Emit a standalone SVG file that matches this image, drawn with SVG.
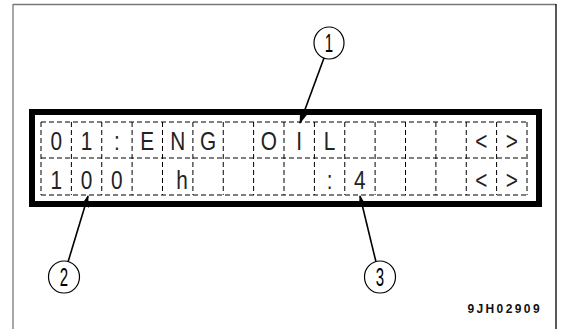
<svg xmlns="http://www.w3.org/2000/svg" width="563" height="329" viewBox="0 0 563 329">
<style>
.grid{stroke:#000;stroke-width:1;stroke-dasharray:5 3;fill:none}
.ch{font-family:"Liberation Sans",Arial,sans-serif;font-size:26px;fill:#222;text-anchor:middle}
.num{font-family:"Liberation Sans",Arial,sans-serif;font-size:25px;fill:#000;text-anchor:middle}
.lead{stroke:#000;stroke-width:1.6;fill:none}
.circ{stroke:#000;stroke-width:1.2;fill:#fff}
</style>
<defs>
<marker id="ah" markerWidth="12" markerHeight="8" refX="11" refY="4" orient="auto" markerUnits="userSpaceOnUse">
<path d="M0,0 L12,4 L0,8 Z" fill="#000"/>
</marker>
</defs>
<rect width="563" height="329" fill="#fff"/>
<g id="frame">
<line x1="13" y1="4.5" x2="556" y2="4.5" stroke="#777" stroke-width="1.3"/>
<line x1="13" y1="4" x2="13" y2="329" stroke="#777" stroke-width="1.3"/>
<line x1="556" y1="4" x2="556" y2="329" stroke="#000" stroke-width="1.3"/>
</g>
<g id="display">
<rect x="32" y="112" width="507" height="92" fill="none" stroke="#000" stroke-width="6"/>
<g class="grid">
<line x1="41" y1="122" x2="527" y2="122"/>
<line x1="41" y1="158" x2="527" y2="158"/>
<line x1="41" y1="195" x2="527" y2="195"/>
<line x1="41" y1="122" x2="41" y2="195"/>
<line x1="71.4" y1="122" x2="71.4" y2="195"/>
<line x1="101.75" y1="122" x2="101.75" y2="195"/>
<line x1="132.1" y1="122" x2="132.1" y2="195"/>
<line x1="162.5" y1="122" x2="162.5" y2="195"/>
<line x1="192.9" y1="122" x2="192.9" y2="195"/>
<line x1="223.25" y1="122" x2="223.25" y2="195"/>
<line x1="253.6" y1="122" x2="253.6" y2="195"/>
<line x1="284" y1="122" x2="284" y2="195"/>
<line x1="314.4" y1="122" x2="314.4" y2="195"/>
<line x1="344.75" y1="122" x2="344.75" y2="195"/>
<line x1="375.1" y1="122" x2="375.1" y2="195"/>
<line x1="405.5" y1="122" x2="405.5" y2="195"/>
<line x1="435.9" y1="122" x2="435.9" y2="195"/>
<line x1="466.25" y1="122" x2="466.25" y2="195"/>
<line x1="496.6" y1="122" x2="496.6" y2="195"/>
<line x1="527" y1="122" x2="527" y2="195"/>
</g>
<g id="row1">
<text class="ch" transform="translate(56.2,150) scale(0.8,1)">0</text>
<text class="ch" transform="translate(86.6,150) scale(0.8,1)">1</text>
<text class="ch" transform="translate(116.9,150) scale(0.8,1)">:</text>
<text class="ch" transform="translate(147.3,150) scale(0.8,1)">E</text>
<text class="ch" transform="translate(177.7,150) scale(0.8,1)">N</text>
<text class="ch" transform="translate(208.1,150) scale(0.8,1)">G</text>
<text class="ch" transform="translate(268.8,150) scale(0.8,1)">O</text>
<text class="ch" transform="translate(299.2,150) scale(0.8,1)">I</text>
<text class="ch" transform="translate(329.6,150) scale(0.8,1)">L</text>
<text class="ch" transform="translate(481.4,150) scale(0.8,1)">&lt;</text>
<text class="ch" transform="translate(511.8,150) scale(0.8,1)">&gt;</text>
</g>
<g id="row2">
<text class="ch" transform="translate(56.2,189) scale(0.8,1)">1</text>
<text class="ch" transform="translate(86.6,189) scale(0.8,1)">0</text>
<text class="ch" transform="translate(116.9,189) scale(0.8,1)">0</text>
<text class="ch" transform="translate(182,189) scale(0.8,1)">h</text>
<text class="ch" transform="translate(329.6,189) scale(0.8,1)">:</text>
<text class="ch" transform="translate(359.9,189) scale(0.8,1)">4</text>
<text class="ch" transform="translate(481.4,189) scale(0.8,1)">&lt;</text>
<text class="ch" transform="translate(511.8,189) scale(0.8,1)">&gt;</text>
</g>
</g>
<g id="connectors">
<line class="lead" x1="324" y1="58" x2="300" y2="123" marker-end="url(#ah)"/>
<line class="lead" x1="68" y1="262" x2="88" y2="196" marker-end="url(#ah)"/>
<line class="lead" x1="376" y1="262" x2="360" y2="196" marker-end="url(#ah)"/>
</g>
<g id="callout1">
<ellipse class="circ" cx="329" cy="43" rx="15" ry="16"/>
<text class="num" transform="translate(329,52) scale(0.6,1)">1</text>
</g>
<g id="callout2">
<ellipse class="circ" cx="64" cy="277" rx="15.5" ry="16"/>
<text class="num" transform="translate(64,286) scale(0.6,1)">2</text>
</g>
<g id="callout3">
<ellipse class="circ" cx="380" cy="277" rx="15.5" ry="16"/>
<text class="num" transform="translate(380,286) scale(0.6,1)">3</text>
</g>
<g id="code">
<text x="542" y="313" font-family="Liberation Sans,Arial,sans-serif" font-size="12" font-weight="bold" letter-spacing="2.4" text-anchor="end" fill="#111">9JH02909</text>
</g>
</svg>
